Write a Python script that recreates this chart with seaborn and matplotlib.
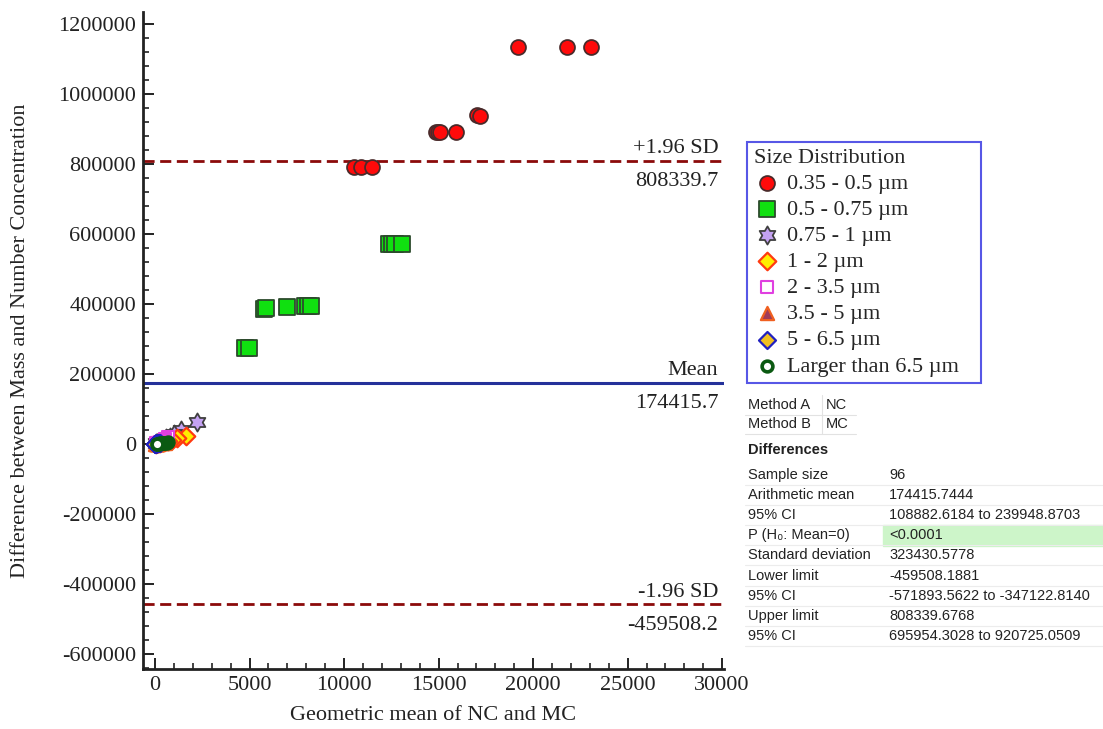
import matplotlib
matplotlib.use("Agg")
import numpy as np
import matplotlib.pyplot as plt
from matplotlib.ticker import AutoMinorLocator, FuncFormatter
from matplotlib.patches import Rectangle
from matplotlib.path import Path
import seaborn as sns

# Size distribution groups (legend order = draw order)
labels = ["0.35 - 0.5 µm", "0.5 - 0.75 µm", "0.75 - 1 µm", "1 - 2 µm",
          "2 - 3.5 µm", "3.5 - 5 µm", "5 - 6.5 µm", "Larger than 6.5 µm"]

x_035 = [19200, 21800, 23050, 17050, 17200, 14850, 14950, 15100, 15900, 10550, 10900, 11450]
y_035 = [1134000, 1134000, 1134000, 940000, 938000, 891000, 891000, 891000, 891000, 791000, 791000, 791000]

x_05 = [4750, 4950, 5750, 5850, 7000, 7950, 8100, 8250, 12400, 12550, 12700, 13050]
y_05 = [273000, 273000, 385000, 388000, 392000, 394000, 394000, 394000, 571000, 571000, 571000, 571000]

x_075 = [2220, 1375, 1000, 800, 600, 450, 350, 250, 200, 150, 100, 60]
y_075 = [61400, 38600, 28000, 20000, 15000, 10000, 7000, 5000, 3500, 2500, 1500, 800]

x_1 = [1640, 1150, 900, 700, 550, 420, 330, 260, 200, 150, 100, 60]
y_1 = [21400, 16000, 12000, 9000, 7000, 5000, 3500, 2500, 1800, 1200, 700, 300]

x_2 = [700, 550, 450, 350, 280, 220, 170, 130, 100, 70, 50, 30]
y_2 = [18000, 13000, 9000, 6000, 4000, 3000, 2000, 1400, 900, 600, 300, 150]

x_35 = [500, 400, 330, 270, 220, 180, 140, 110, 80, 60, 40, 20]
y_35 = [2000, 1500, 1200, 900, 700, 500, 400, 300, 200, 150, 100, 50]

x_5 = [250, 200, 160, 130, 100, 80, 60, 45, 30, 20, 10, 5]
y_5 = [3000, 2500, 2000, 1500, 1200, 900, 700, 500, 300, 200, 100, 50]

x_65 = [700, 620, 540, 470, 400, 340, 290, 240, 200, 160, 120, 80]
y_65 = [4000, 3000, 2500, 2000, 1500, 1200, 900, 700, 500, 300, 200, 100]

mean_diff = 174415.7
upper_loa = 808339.7
lower_loa = -459508.2

x_ticks = [0, 5000, 10000, 15000, 20000, 25000, 30000]
y_ticks = [-600000, -400000, -200000, 0, 200000, 400000, 600000, 800000, 1000000, 1200000]

table_left = ["Sample size", "Arithmetic mean", "95% CI", "P (H₀: Mean=0)", "Standard deviation",
              "Lower limit", "95% CI", "Upper limit", "95% CI"]
table_right = ["96", "174415.7444", "108882.6184 to 239948.8703", "<0.0001", "323430.5778",
               "-459508.1881", "-571893.5622 to -347122.8140", "808339.6768",
               "695954.3028 to 920725.0509"]

sns.set_style("white")
plt.rcParams["font.family"] = ["Liberation Serif", "DejaVu Serif"]
plt.rcParams["axes.unicode_minus"] = False

# six-pointed star (hexagram) marker
ang = np.pi / 2 + np.arange(12) * np.pi / 6
rad = np.where(np.arange(12) % 2 == 0, 1.0, 0.577)
hexagram = Path(np.column_stack([rad * np.cos(ang), rad * np.sin(ang)]).tolist()
                + [[0.0, 1.0]], closed=True)

W, H = 1103, 729
fig = plt.figure(figsize=(W / 100, H / 100), dpi=100)
ax = fig.add_axes([143 / W, 60 / H, 581 / W, 657 / H])

styles = [
    (x_035, y_035, "o", "#ff0a0a", "#4a2a2a", 115, 1.3),
    (x_05, y_05, "s", "#10e010", "#2c4a2c", 120, 1.3),
    (x_075, y_075, hexagram, "#c4a2f2", "#404040", 170, 1.3),
    (x_1, y_1, "D", "#ffee00", "#ff3a10", 80, 1.6),
    (x_2, y_2, "s", "white", "#e040e0", 70, 1.5),
    (x_35, y_35, "^", "#a03c5a", "#f06020", 90, 1.6),
    (x_5, y_5, "D", "#f0c020", "#2020c0", 75, 1.6),
    (x_65, y_65, "o", "white", "#0b5a12", 60, 2.6),
]
for (xs, ys, mk, fc, ec, s, lw), lab in zip(styles, labels):
    sns.scatterplot(x=xs, y=ys, ax=ax, marker=mk, color=fc, edgecolor=ec,
                    s=s, linewidth=lw, label=lab, zorder=3)

ax.axhline(upper_loa, color="#8b0a0a", lw=2.0, ls=(0, (4, 2)), zorder=2)
ax.axhline(lower_loa, color="#8b0a0a", lw=2.0, ls=(0, (4, 2)), zorder=2)
ax.axhline(mean_diff, color="#24319a", lw=2.2, zorder=2)

x_lab = 29800
for val, top, bottom in [(upper_loa, "+1.96 SD", "808339.7"),
                         (mean_diff, "Mean", "174415.7"),
                         (lower_loa, "-1.96 SD", "-459508.2")]:
    ax.annotate(top, xy=(x_lab, val), xytext=(0, 2), textcoords="offset points",
                ha="right", va="bottom", fontsize=16, color="#222222")
    ax.annotate(bottom, xy=(x_lab, val), xytext=(0, -8), textcoords="offset points",
                ha="right", va="top", fontsize=16, color="#222222")

ax.set_xlim(-640, 30100)
ax.set_ylim(-644000, 1234000)
ax.set_xticks(x_ticks)
ax.set_yticks(y_ticks)
ax.xaxis.set_major_formatter(FuncFormatter(lambda v, p: f"{int(round(v))}"))
ax.yaxis.set_major_formatter(FuncFormatter(lambda v, p: f"{int(round(v))}"))
ax.xaxis.set_minor_locator(AutoMinorLocator(5))
ax.yaxis.set_minor_locator(AutoMinorLocator(5))
ax.tick_params(which="both", bottom=True, left=True, direction="in")
ax.tick_params(which="major", length=8, width=1.4, labelsize=16, colors="#222222", pad=5)
ax.tick_params(which="minor", length=4.5, width=1.2, colors="#222222")
for side in ["top", "right"]:
    ax.spines[side].set_visible(False)
for side in ["left", "bottom"]:
    ax.spines[side].set_linewidth(2.0)
    ax.spines[side].set_color("#222222")

ax.set_xlabel("Geometric mean of NC and MC", fontsize=16, color="#222222", labelpad=8)
ax.set_ylabel("Difference between Mass and Number Concentration", fontsize=16,
              color="#222222", labelpad=20)

leg = ax.legend(title="Size Distribution", loc="upper left",
                bbox_to_anchor=(747 / W, 1 - 384 / H, 234 / W, 242 / H),
                bbox_transform=fig.transFigure, mode="expand", borderaxespad=0,
                fontsize=16, title_fontsize=16, alignment="left", fancybox=False,
                labelspacing=0.25, handletextpad=0.3, handlelength=1.2,
                markerscale=1.0, borderpad=0.3)
leg.get_frame().set_edgecolor("#2d2de0")
leg.get_frame().set_linewidth(1.5)

# statistics table on the right
sans = ["Liberation Sans", "DejaVu Sans"]
fs = 10.5
fig.patches.append(Rectangle((883 / W, 1 - 546 / H), 220 / W, 21 / H,
                             transform=fig.transFigure, color="#cdf5c9", zorder=0))
for y, a, b in [(405, "Method A", "NC"), (424, "Method B", "MC")]:
    fig.text(748 / W, 1 - y / H, a, family=sans, fontsize=fs, va="center", color="#222222")
    fig.text(826 / W, 1 - y / H, b, family=sans, fontsize=fs, va="center", color="#222222")
    fig.add_artist(plt.Line2D([745 / W, 856 / W], [1 - (y + 10) / H] * 2,
                              color="#e2e2e2", lw=0.8, transform=fig.transFigure))
fig.add_artist(plt.Line2D([822 / W, 822 / W], [1 - 434 / H, 1 - 395 / H],
                          color="#e2e2e2", lw=0.8, transform=fig.transFigure))
fig.text(748 / W, 1 - 450 / H, "Differences", family=sans, fontsize=fs, weight="bold",
         va="center", color="#222222")
for i, (a, b) in enumerate(zip(table_left, table_right)):
    y = 475 + i * 20.1
    fig.text(748 / W, 1 - y / H, a, family=sans, fontsize=fs, va="center", color="#222222")
    fig.text(889 / W, 1 - y / H, b, family=sans, fontsize=fs, va="center", color="#222222")
    fig.add_artist(plt.Line2D([745 / W, 1103 / W], [1 - (y + 10) / H] * 2,
                              color="#ececec", lw=0.8, transform=fig.transFigure))

fig.savefig("out.png", dpi=100)
